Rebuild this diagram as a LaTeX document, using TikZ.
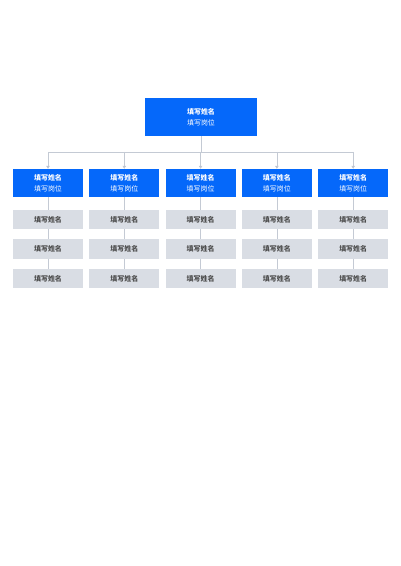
\documentclass[tikz,border=0pt]{standalone}
\usepackage{fontspec}
\setmainfont{Noto Sans CJK SC}
\usetikzlibrary{arrows.meta}

\definecolor{headblue}{RGB}{5,104,250}
\definecolor{cellgray}{RGB}{217,221,228}
\definecolor{linegray}{RGB}{196,202,212}
\definecolor{tipgray}{RGB}{128,138,155}

\begin{document}
\begin{tikzpicture}[x=1bp, y=-1bp,
    lead/.style={fill=headblue, text=white, inner sep=0pt, align=center, font=\fontsize{7}{11}\selectfont},
    cell/.style={fill=cellgray, text=black!70, minimum width=70bp, minimum height=19.5bp, inner sep=0pt, font=\bfseries\fontsize{7}{9}\selectfont},
    link/.style={draw=linegray, line width=0.7bp}]
    \useasboundingbox (0,0) rectangle (400,566); % page size
    \node[lead, minimum width=112bp, minimum height=38bp] (top) at (201,117) {\textbf{填写姓名}\\填写岗位};
    \foreach \i in {1,...,5} {
        \node[lead, minimum width=70bp, minimum height=28bp] (c\i) at ({48+76.3*(\i-1)},183) {\textbf{填写姓名}\\填写岗位};
        \foreach \j/\yy in {1/219.5,2/249,3/278.7}
            \node[cell] (g\i-\j) at ({48+76.3*(\i-1)},\yy) {填写姓名};
        \draw[link] (c\i) -- (g\i-1) -- (g\i-2) -- (g\i-3);
    }
    \coordinate (bus) at (201,152);
    \draw[link] (top) -- (bus);
    \draw[link] (c1.north |- bus) -- (c5.north |- bus);
    \foreach \i in {1,...,5}
        \draw[link, -{Triangle[width=3.5bp,length=3bp,fill=tipgray]}] (c\i.north |- bus) -- (c\i);
\end{tikzpicture}
\end{document}
